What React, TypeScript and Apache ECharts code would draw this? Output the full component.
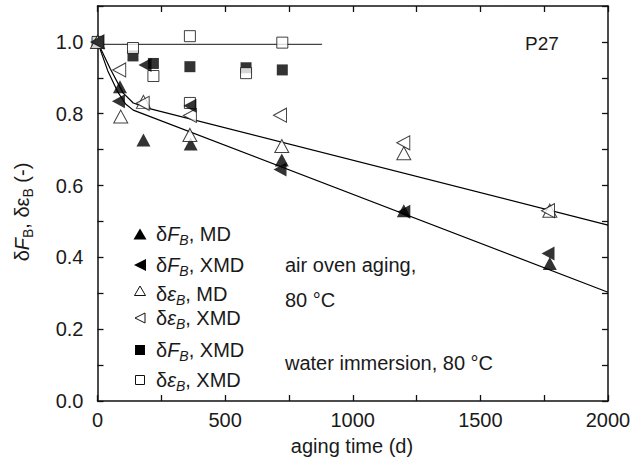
import React, { useEffect, useRef } from "react";
import * as echarts from "echarts";

// ---- data ----
const fbMD = [[0, 1.0], [88, 0.875], [180, 0.727], [365, 0.716], [722, 0.671], [1200, 0.53], [1772, 0.383]];
const fbXMD = [[0, 1.0], [82, 0.835], [186, 0.936], [362, 0.822], [715, 0.645], [1200, 0.527], [1765, 0.411]];
const ebMD = [[0, 1.0], [91, 0.792], [180, 0.833], [362, 0.741], [722, 0.71], [1200, 0.69], [1772, 0.53]];
const ebXMD = [[0, 1.0], [85, 0.922], [177, 0.829], [362, 0.795], [715, 0.796], [1198, 0.719], [1765, 0.53]];
const fbXMDWater = [[0, 1.0], [139, 0.961], [219, 0.94], [362, 0.931], [582, 0.928], [724, 0.922]];
const ebXMDWater = [[0, 1.0], [139, 0.983], [219, 0.905], [362, 1.016], [362, 0.83], [582, 0.913], [724, 0.998]];

const fitLower = [[0, 1.0], [40, 0.92], [80, 0.86], [110, 0.827], [140, 0.81], [2000, 0.303]];
const fitUpper = [[0, 1.0], [50, 0.925], [100, 0.858], [140, 0.83], [200, 0.815], [2000, 0.49]];
const fitWater = [[0, 0.993], [880, 0.993]];

const xMin = 0, xMax = 2000, xStep = 250;
const yMin = 0, yMax = 1.1, yStep = 0.1;

const FONT = "'Liberation Sans', Arial, sans-serif";
const TXT = "#1a1a1a";

const baseRich = (fs: number) => ({
  n: { fontSize: fs, fontFamily: FONT, color: TXT },
  i: { fontSize: fs, fontFamily: FONT, color: TXT, fontStyle: "italic" },
  si: { fontSize: 14, fontFamily: FONT, color: TXT, fontStyle: "italic", padding: [12, 0, 0, 0] },
  s: { fontSize: 14, fontFamily: FONT, color: TXT, padding: [12, 0, 0, 0] },
});

const legendRows = [
  { y: 234, text: "{n|δ}{i|F}{si|B}{n|, MD}" },
  { y: 265, text: "{n|δ}{i|F}{si|B}{n|, XMD}" },
  { y: 294, text: "{n|δ}{i|ε}{si|B}{n|, MD}" },
  { y: 318, text: "{n|δ}{i|ε}{si|B}{n|, XMD}" },
  { y: 350, text: "{n|δ}{i|F}{si|B}{n|, XMD}" },
  { y: 380, text: "{n|δ}{i|ε}{si|B}{n|, XMD}" },
];

function txt(x: number, y: number, text: string, align = "left", fs = 20, extra: any = {}) {
  return {
    type: "text",
    x,
    y,
    z: 100,
    ...extra,
    style: {
      text,
      fontSize: fs,
      fontFamily: FONT,
      fill: TXT,
      align,
      textAlign: align,
      verticalAlign: "middle",
      textVerticalAlign: "middle",
      rich: baseRich(fs),
    },
  };
}

export default function App() {
  const ref = useRef<HTMLDivElement>(null);
  useEffect(() => {
    document.body.style.margin = "0";
    const chart = echarts.init(ref.current!, null, { renderer: "svg" });
    const open = { color: "#fff", borderColor: "#111", borderWidth: 1 };
    const filled = { color: "#000" };
    const lineS = (data: any, color = "#000") => ({
      type: "line",
      data,
      symbol: "none",
      lineStyle: { color, width: 1.2 },
      silent: true,
      z: 1,
    });
    const axisCommon = {
      type: "value",
      axisLine: { show: true, onZero: false, lineStyle: { color: "#111", width: 1.5 } },
      axisTick: { show: true, inside: true, length: 6, lineStyle: { color: "#111", width: 1.3 } },
      splitLine: { show: false },
    };
    const symX = legendRows.map(() => 140);
    const legendSymbols = [
      { type: "polygon", x: symX[0], y: 234, shape: { points: [[-6.5, 5.5], [6.5, 5.5], [0, -5.5]] }, style: { fill: "#000" } },
      { type: "polygon", x: symX[1], y: 265, shape: { points: [[-6, 0], [6, -6], [6, 6]] }, style: { fill: "#000" } },
      { type: "polygon", x: symX[2], y: 291, shape: { points: [[-5.5, 4.5], [5.5, 4.5], [0, -5]] }, style: { fill: "#fff", stroke: "#111", lineWidth: 1 } },
      { type: "polygon", x: symX[3], y: 318, shape: { points: [[-5, 0], [5, -5], [5, 5]] }, style: { fill: "#fff", stroke: "#111", lineWidth: 1 } },
      { type: "rect", x: symX[4], y: 350, shape: { x: -5, y: -5, width: 10, height: 10 }, style: { fill: "#000" } },
      { type: "rect", x: symX[5], y: 380, shape: { x: -4.5, y: -4.5, width: 9, height: 9 }, style: { fill: "#fff", stroke: "#111", lineWidth: 1 } },
    ];
    chart.setOption({
      animation: false,
      backgroundColor: "#fff",
      grid: { left: 97.5, right: 28, top: 6, bottom: 62, outerBoundsMode: "none" },
      xAxis: [
        {
          ...axisCommon,
          min: xMin,
          max: xMax,
          interval: xStep,
          position: "bottom",
          axisLabel: {
            margin: 9,
            fontSize: 20,
            fontFamily: FONT,
            color: TXT,
            formatter: (v: number) => (v % 500 === 0 ? String(v) : ""),
          },
        },
        { ...axisCommon, min: xMin, max: xMax, interval: xStep, position: "top", axisLabel: { show: false } },
      ],
      yAxis: [
        {
          ...axisCommon,
          min: yMin,
          max: yMax,
          interval: yStep,
          position: "left",
          axisLabel: {
            margin: 14,
            fontSize: 20,
            fontFamily: FONT,
            color: TXT,
            formatter: (v: number) => (Math.round(v * 10) % 2 === 0 ? v.toFixed(1) : ""),
          },
        },
        { ...axisCommon, min: yMin, max: yMax, interval: yStep, position: "right", axisLabel: { show: false } },
      ],
      series: [
        lineS(fitWater, "#444"),
        lineS(fitLower),
        lineS(fitUpper),
        { type: "scatter", data: fbXMDWater, symbol: "rect", symbolSize: 11, itemStyle: filled, z: 2 },
        { type: "scatter", data: ebXMDWater, symbol: "rect", symbolSize: 11, itemStyle: open, z: 3 },
        { type: "scatter", data: fbMD, symbol: "triangle", symbolSize: [14, 13], itemStyle: filled, z: 4 },
        { type: "scatter", data: ebMD, symbol: "triangle", symbolSize: [14, 13], itemStyle: open, z: 5 },
        { type: "scatter", data: ebXMD, symbol: "triangle", symbolRotate: 90, symbolSize: [14, 13], itemStyle: open, z: 6 },
        { type: "scatter", data: fbXMD, symbol: "triangle", symbolRotate: 90, symbolSize: [14, 13], itemStyle: filled, z: 7 },
      ],
      graphic: [
        ...legendSymbols,
        ...legendRows.map((r) => txt(156, r.y, r.text)),
        txt(285, 265, "air oven aging,"),
        txt(285, 300, "80 °C"),
        txt(285, 363, "water immersion, 80 °C"),
        txt(525, 43, "P27", "left", 19),
        txt(352, 446, "aging time (d)", "center"),
        {
          ...txt(22, 212, "{n|δ}{i|F}{s|B}{n|, δε}{s|B}{n| (-)}", "center"),
          rotation: Math.PI / 2,
        },
      ],
    });
    return () => chart.dispose();
  }, []);
  return <div ref={ref} style={{ width: 636, height: 463 }} />;
}
